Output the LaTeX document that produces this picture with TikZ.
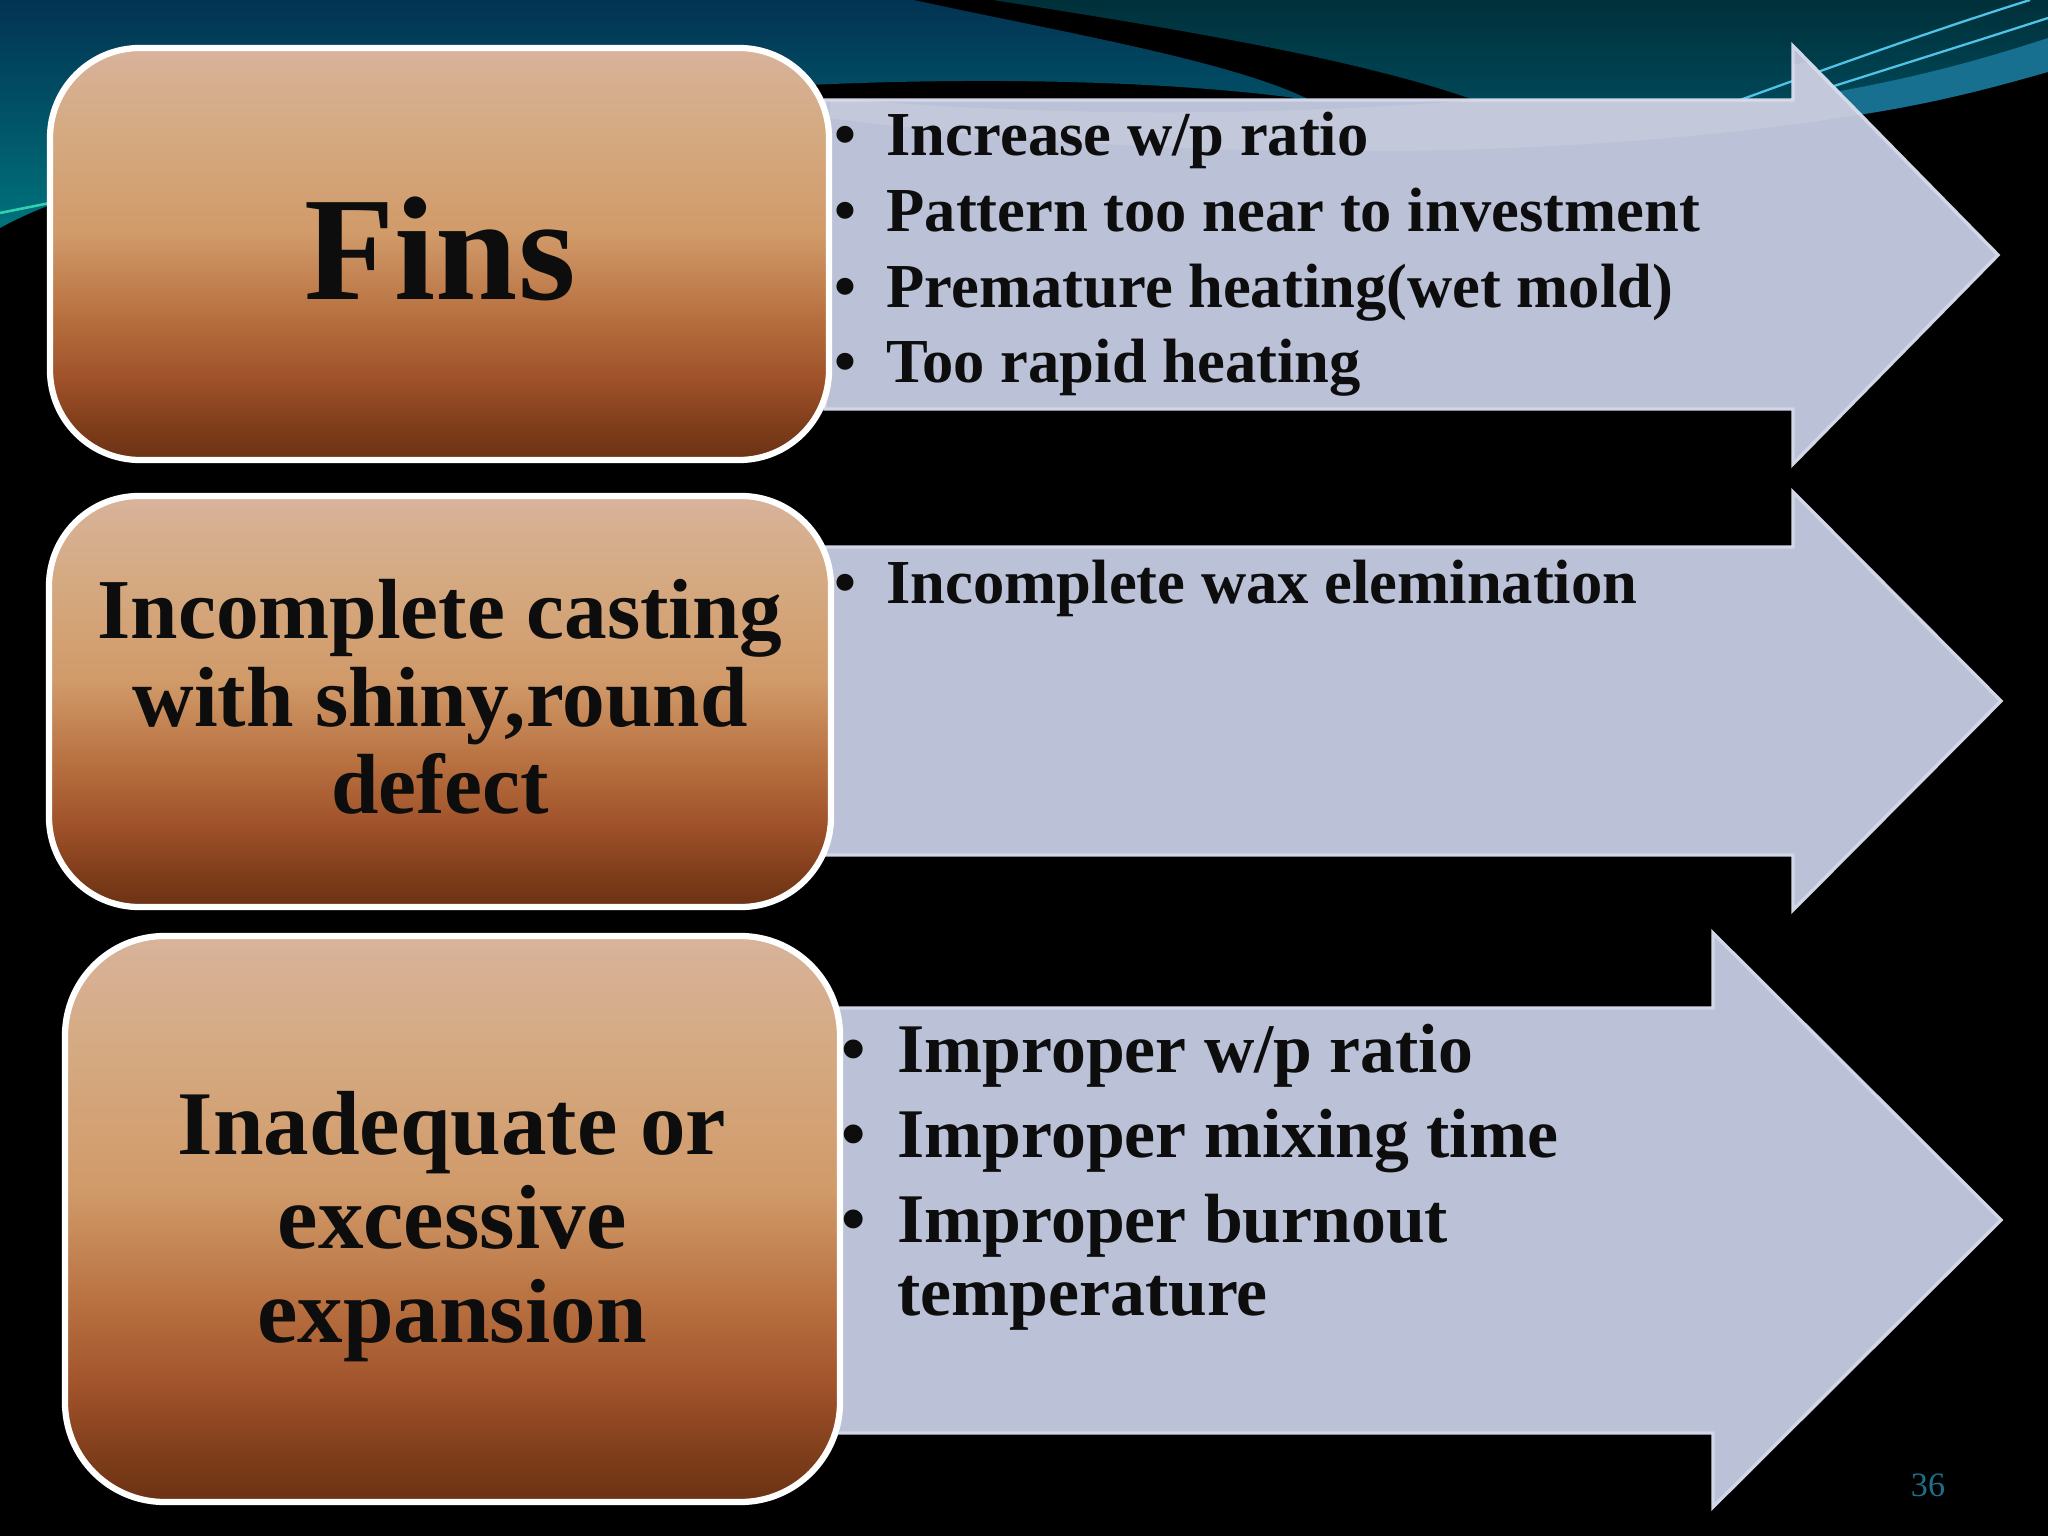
\documentclass[tikz,border=0pt]{standalone}
\usepackage{fontspec}
\setmainfont{Liberation Serif}
\definecolor{bgtop}{HTML}{023352}
\definecolor{bgbot}{HTML}{00727C}
\definecolor{tealtop}{HTML}{00303A}
\definecolor{tealbot}{HTML}{00495A}
\definecolor{bandc}{HTML}{17708F}
\definecolor{linec}{HTML}{4FC3E8}
\definecolor{greenline}{HTML}{30D0B0}
\definecolor{arrowfill}{HTML}{BBC1D6}
\definecolor{arrowedge}{HTML}{D2D7E7}
\definecolor{ink}{HTML}{0D0D0D}
\definecolor{pagenum}{HTML}{1D6F86}
\definecolor{brA}{HTML}{D8B39B}
\definecolor{brB}{HTML}{D5AA82}
\definecolor{brC}{HTML}{D19A69}
\definecolor{brD}{HTML}{B87040}
\definecolor{brE}{HTML}{A0522A}
\definecolor{brF}{HTML}{7E3D1A}
\definecolor{brG}{HTML}{6B3214}
\pgfdeclareverticalshading{brownshade}{100bp}{color(0bp)=(brG); color(25bp)=(brG); color(29bp)=(brF); color(35bp)=(brE); color(42.5bp)=(brD); color(52.5bp)=(brC); color(65bp)=(brB); color(75bp)=(brA); color(100bp)=(brA)}
\newcommand\bulmark[1]{\makebox[#1][l]{•}}
\tikzset{
  boxshape/.style={shading=brownshade, draw=white, line width=2.2pt},
  arrowshape/.style={fill=arrowfill, draw=arrowedge, line width=1.2pt, line join=miter},
  finsfont/.style={inner sep=0pt, anchor=base, text=ink, font=\bfseries\fontsize{52}{60}\selectfont},
  midtitle/.style={inner sep=0pt, anchor=base, text=ink, font=\bfseries\fontsize{30}{36}\selectfont},
  bigtitle/.style={inner sep=0pt, anchor=base, text=ink, font=\bfseries\fontsize{32}{38}\selectfont},
  smallbullet/.style={inner sep=0pt, anchor=base west, text=ink, font=\bfseries\fontsize{22}{26}\selectfont},
  bigbullet/.style={inner sep=0pt, anchor=base west, text=ink, font=\bfseries\fontsize{24.5}{29}\selectfont}
}
\begin{document}
\begin{tikzpicture}[x=0.3515625pt,y=-0.3515625pt]
\useasboundingbox (0,0) rectangle (2048,1536);
% background
\fill[black] (0,0) rectangle (2048,1536);
\shade[top color=bgtop, bottom color=bgbot] (0,0) -- (914,0) .. controls (1050,30) and (1230,60) .. (1310,100) .. controls (1100,70) and (700,70) .. (300,140) .. controls (150,170) and (60,195) .. (0,228) -- cycle;
\shade[top color=tealtop, bottom color=tealbot] (993,0) -- (2048,0) -- (2048,40) .. controls (1950,70) and (1850,95) .. (1700,110) -- (1500,110) .. controls (1380,60) and (1150,25) .. (993,0) -- cycle;
\fill[bandc] (2048,38) .. controls (1950,70) and (1850,95) .. (1700,110) -- (1650,135) .. controls (1850,125) and (1950,100) .. (2048,72) -- cycle;
\draw[linec, line width=0.8pt] (1740,100) .. controls (1850,60) and (1950,25) .. (2030,0);
\draw[linec, line width=0.8pt] (1790,100) .. controls (1900,65) and (1980,40) .. (2048,18);
\draw[greenline, line width=0.9pt] (0,213) -- (55,202);
% arrows
\path[arrowshape] (825,100) -- (1793,100) -- (1793,46) -- (1998,255) -- (1793,464) -- (1793,409) -- (825,409) -- cycle;
\begin{scope}
\clip (825,100) -- (1793,100) -- (1793,46) -- (1998,255) -- (1793,464) -- (1793,409) -- (825,409) -- cycle;
\fill[white, opacity=0.13] (830,98) .. controls (1200,130) and (1600,110) .. (2048,20) -- (2048,72) .. controls (1800,150) and (1300,180) .. (830,118) -- cycle;
\end{scope}
\path[arrowshape] (825,547) -- (1793,547) -- (1793,492) -- (2001,701) -- (1793,910) -- (1793,855) -- (825,855) -- cycle;
\path[arrowshape] (835,1008) -- (1713,1008) -- (1713,933) -- (2001,1220) -- (1713,1507) -- (1713,1433) -- (835,1433) -- cycle;
% boxes
\path[boxshape, rounded corners=31.6pt] (50,48) rectangle (829,460);
\path[boxshape, rounded corners=31.6pt] (49,496) rectangle (831,907);
\path[boxshape, rounded corners=35pt] (65,936) rectangle (840,1502);
% box titles
\node[finsfont] (fins) at (440,300) {Fins};
\node[midtitle] (inc1) at (440,639) {Incomplete casting};
\node[midtitle] (inc2) at (440,727) {with shiny,round};
\node[midtitle] (inc3) at (440,813) {defect};
\node[bigtitle] (inad1) at (452,1154) {Inadequate or};
\node[bigtitle] (inad2) at (452,1248) {excessive};
\node[bigtitle] (inad3) at (452,1342) {expansion};
% bullets arrow 1
\node[smallbullet] (fa) at (834,156) {\bulmark{18.3pt}Increase w/p ratio};
\node[smallbullet] (fb) at (834,232) {\bulmark{18.3pt}Pattern too near to investment};
\node[smallbullet] (fc) at (834,308) {\bulmark{18.3pt}Premature heating(wet mold)};
\node[smallbullet] (fd) at (834,383) {\bulmark{18.3pt}Too rapid heating};
% bullet arrow 2
\node[smallbullet] (ia) at (834,604) {\bulmark{18.3pt}Incomplete wax elemination};
% bullets arrow 3
\node[bigbullet] (ea) at (841,1072) {\bulmark{19.7pt}Improper w/p ratio};
\node[bigbullet] (eb) at (841,1157) {\bulmark{19.7pt}Improper mixing time};
\node[bigbullet] (ec) at (841,1242) {\bulmark{19.7pt}Improper burnout};
\node[bigbullet] (ed) at (897,1315) {temperature};
% page number
\node[inner sep=0pt, anchor=base, text=pagenum, font=\fontsize{12}{14}\selectfont] (pnum) at (1928,1496) {36};
\end{tikzpicture}
\end{document}
